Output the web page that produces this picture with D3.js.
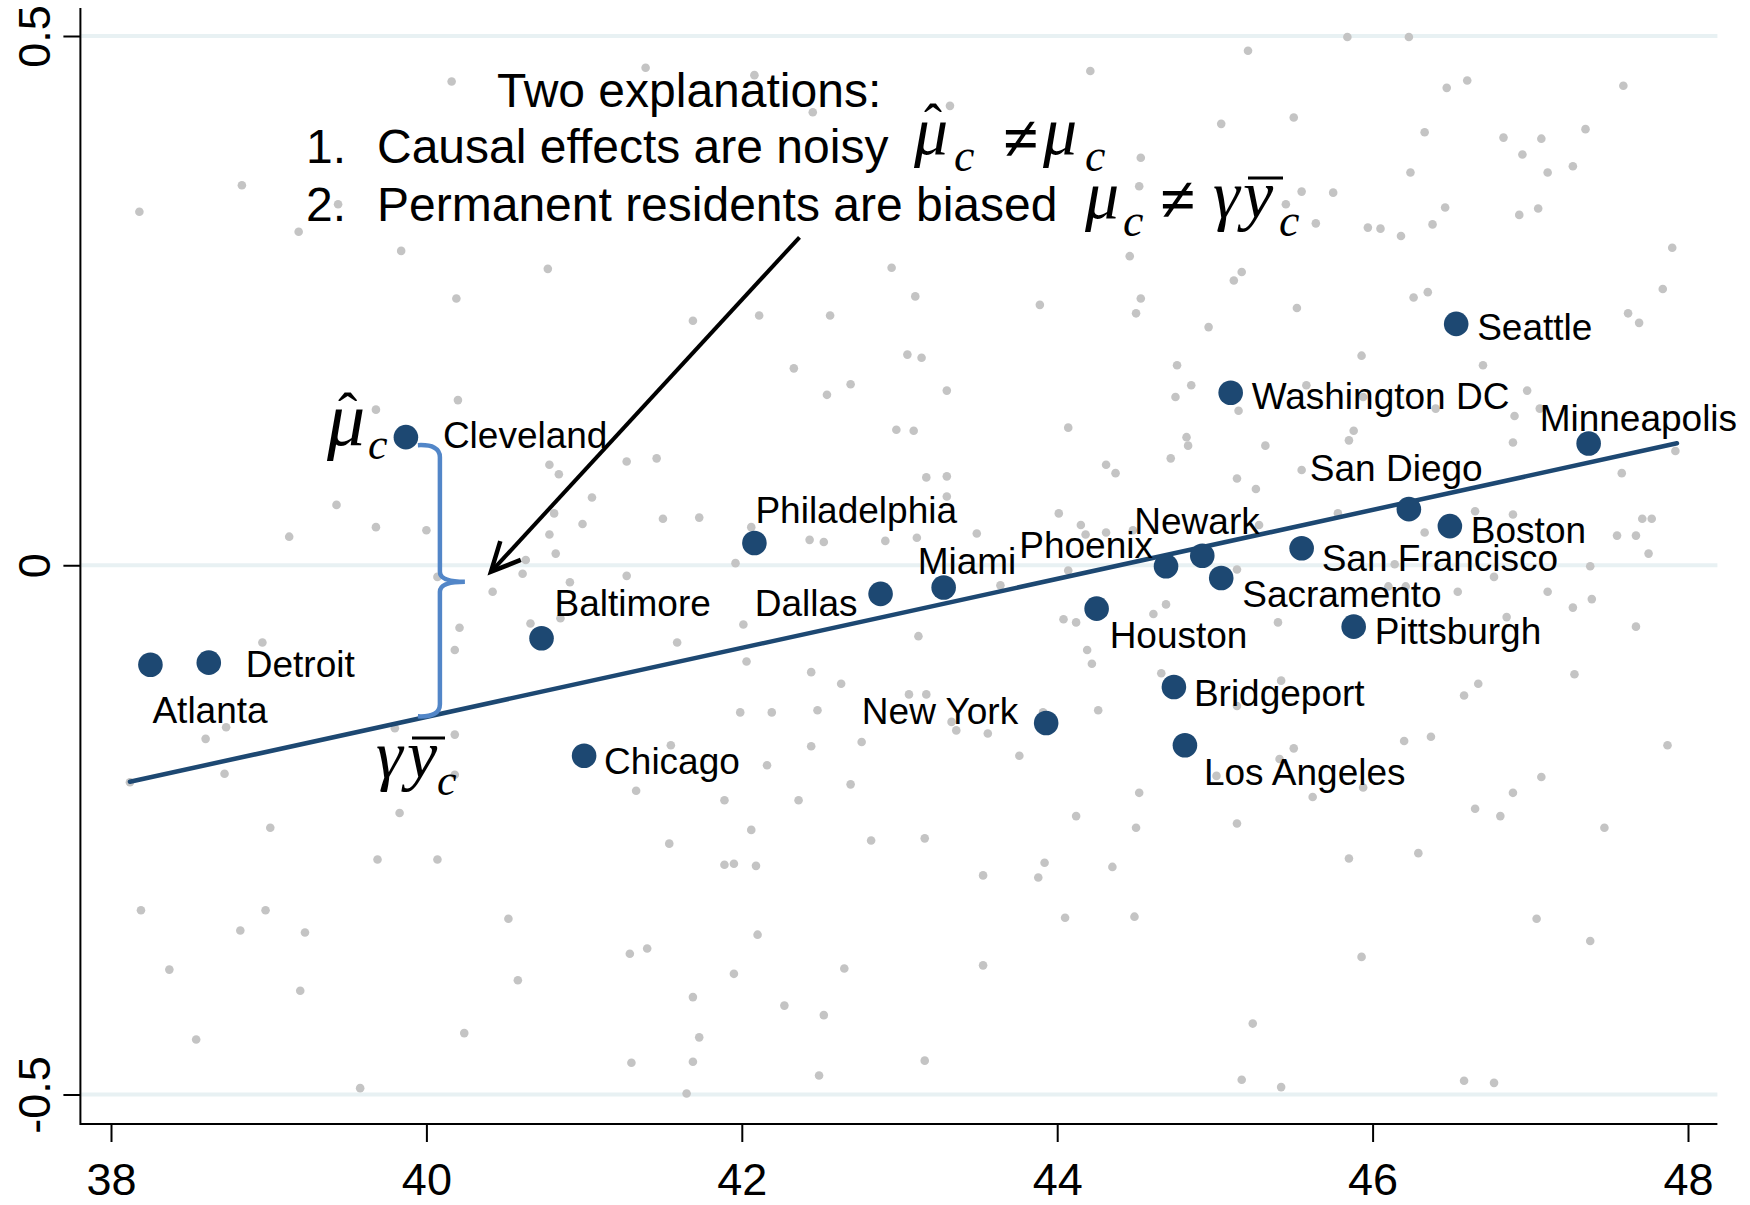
<!DOCTYPE html>
<html>
  <head>
    <meta charset="utf-8">
    <script src="https://d3js.org/d3.v7.min.js"></script>
    <title>Place effects vs permanent residents</title>
    <style>
      body { margin: 0px; background: #fff; }
      text { font-family: 'Liberation Sans', Arial, sans-serif; fill: #000; }
      .tick line { stroke: #000; stroke-width: 2; }
      .tick text { font-size: 45px; }
      .city-label { font-size: 37px; }
      .note { font-size: 48px; }
      .math { font-family: 'Liberation Serif', 'Times New Roman', serif; font-style: italic; }
      .math .up { font-style: normal; }
    </style>
  </head>
  <body>
    <svg width="1750" height="1205"></svg>
    <script>
      // tick values
      const xTicks = [38, 40, 42, 44, 46, 48];
      const yTicks = [-0.5, 0, 0.5];

      // labelled cities
      const cities = ['Atlanta', 'Detroit', 'Cleveland', 'Baltimore', 'Chicago', 'Philadelphia',
        'Dallas', 'Miami', 'New York', 'Houston', 'Phoenix', 'Newark', 'Sacramento', 'Bridgeport',
        'Los Angeles', 'Washington DC', 'San Francisco', 'Pittsburgh', 'San Diego', 'Boston',
        'Seattle', 'Minneapolis'];
      const cityX = [38.25, 38.62, 39.87, 40.73, 41.00, 42.08, 42.88, 43.28, 43.93, 44.25, 44.69,
        44.92, 45.04, 44.74, 44.81, 45.10, 45.55, 45.88, 46.23, 46.49, 46.53, 47.37];
      const cityY = [-0.094, -0.092, 0.121, -0.069, -0.180, 0.021, -0.027, -0.021, -0.149, -0.041,
        -0.001, 0.009, -0.012, -0.115, -0.170, 0.163, 0.016, -0.058, 0.053, 0.037, 0.228, 0.115];

      // fitted line end points
      const fitX = [38.12, 47.93];
      const fitY = [-0.2045, 0.1152];

      // background (all other places)
      const bgX = [40.16, 38.83, 38.18, 39.44, 39.19, 39.84, 40.77, 40.19, 40.20, 41.39, 42.08, 42.45,
        43.32, 44.21, 45.21, 45.50, 45.04, 44.53, 44.52, 44.46, 45.17, 45.12, 45.52, 42.95, 43.10,
        43.89, 44.53, 44.50, 44.96, 41.69, 42.11, 42.56, 43.05, 43.14, 42.33, 42.69, 42.54, 43.30,
        44.76, 44.85, 44.75, 45.84, 46.23, 46.47, 46.60, 47.59, 46.33, 46.83, 47.07, 47.35, 46.95,
        47.11, 47.27, 46.24, 45.55, 45.75, 45.45, 45.64, 45.97, 46.05, 46.18, 46.38, 46.46, 46.93,
        47.05, 47.90, 46.26, 46.35, 47.84, 47.62, 47.69, 45.93, 46.70, 46.98, 45.32, 45.15, 45.58,
        45.94, 46.40, 46.90, 47.06, 46.89, 45.88, 45.85, 47.92, 47.58, 45.55, 45.14, 45.26, 44.82,
        44.83, 44.72, 45.28, 45.14, 44.69, 44.61, 45.40, 46.33, 46.65, 46.89, 47.55, 47.67, 47.71,
        47.77, 47.75, 47.38, 46.77, 46.54, 47.11, 47.39, 47.27, 47.67, 46.85, 46.10, 46.21, 46.14,
        45.78, 44.66, 45.42, 45.14, 47.28, 46.67, 46.58, 46.20, 46.37, 45.50, 47.87, 45.41, 45.01,
        47.07, 45.94, 46.89, 45.62, 42.98, 43.09, 44.07, 44.31, 44.37, 41.27, 41.46, 43.17, 43.30,
        43.30, 41.50, 41.73, 42.06, 42.43, 42.52, 42.91, 43.11, 43.49, 44.01, 44.15, 44.18, 44.31,
        44.48, 41.96, 41.27, 44.07, 43.64, 42.01, 41.59, 43.12, 44.04, 44.12, 42.03, 42.44, 42.63,
        44.19, 44.22, 43.06, 43.17, 44.26, 43.91, 41.99, 42.19, 42.48, 43.33, 43.36, 43.56, 42.76,
        42.44, 41.55, 42.16, 43.76, 44.52, 41.33, 42.69, 39.68, 40.78, 40.84, 41.05, 40.99, 40.81,
        40.78, 40.82, 40.63, 40.61, 40.91, 40.42, 40.07, 39.43, 39.68, 40.00, 39.13, 40.21, 40.18,
        40.66, 40.85, 38.96, 38.73, 38.60, 39.80, 40.18, 38.72, 40.18, 38.12, 39.83, 39.01, 39.69,
        40.07, 38.19, 38.98, 38.82, 39.23, 40.52, 38.37, 39.20, 40.58, 38.54, 40.24, 39.58, 41.89,
        42.36, 42.06, 41.54, 41.89, 41.95, 42.09, 42.82, 43.16, 44.12, 44.50, 43.53, 43.92, 43.88,
        44.35, 44.05, 44.49, 42.10, 41.29, 41.40, 41.95, 42.65, 43.53, 41.69, 42.27, 42.52, 41.73,
        41.30, 41.69, 43.16, 42.49, 41.65, 46.65, 46.81, 47.47, 45.14, 45.85, 46.29, 47.04, 47.38,
        45.93, 45.24, 45.17, 45.42, 46.58, 46.77];
      const bgY = [0.457, 0.359, 0.334, 0.341, 0.315, 0.297, 0.280, 0.252, 0.156, 0.470, 0.463, 0.428,
        0.434, 0.467, 0.486, 0.423, 0.417, 0.385, 0.358, 0.292, 0.277, 0.269, 0.243, 0.281, 0.254,
        0.246, 0.252, 0.238, 0.225, 0.231, 0.236, 0.236, 0.199, 0.196, 0.186, 0.171, 0.161, 0.165,
        0.189, 0.170, 0.159, 0.499, 0.499, 0.451, 0.458, 0.453, 0.409, 0.404, 0.403, 0.412, 0.388,
        0.371, 0.377, 0.371, 0.353, 0.352, 0.341, 0.323, 0.319, 0.318, 0.311, 0.322, 0.338, 0.331,
        0.337, 0.300, 0.253, 0.258, 0.261, 0.238, 0.229, 0.198, 0.189, 0.165, 0.113, 0.146, 0.170,
        0.159, 0.148, 0.141, 0.148, 0.116, 0.127, 0.118, 0.108, 0.087, 0.090, 0.082, 0.072, 0.121,
        0.113, 0.101, 0.038, -0.004, -0.037, -0.046, -0.054, 0.031, 0.051, 0.048, 0.028, 0.028, 0.044,
        0.044, 0.011, -0.001, -0.011, -0.025, -0.025, -0.032, -0.040, -0.058, -0.049, -0.020, -0.020,
        0.001, 0.049, -0.102, -0.109, -0.133, -0.103, -0.112, -0.123, -0.166, -0.162, -0.173, -0.170,
        -0.183, -0.199, -0.200, -0.210, -0.215, -0.219, 0.128, 0.127, 0.130, 0.095, 0.087, 0.098,
        0.101, 0.083, 0.084, 0.065, 0.044, 0.045, 0.036, 0.024, 0.022, 0.023, 0.026, 0.030, 0.049,
        0.038, 0.029, 0.031, 0.033, 0.002, -0.010, -0.005, -0.019, -0.056, -0.073, -0.067, -0.051,
        -0.054, -0.091, -0.101, -0.112, -0.080, -0.093, -0.122, -0.122, -0.137, -0.139, -0.139,
        -0.139, -0.137, -0.148, -0.156, -0.159, -0.167, -0.171, -0.170, -0.189, -0.180, -0.215,
        -0.213, -0.207, 0.147, 0.095, 0.086, 0.064, 0.039, 0.049, 0.029, 0.011, 0.005, -0.008, -0.016,
        -0.025, -0.011, 0.057, 0.036, 0.033, 0.027, -0.059, -0.080, -0.055, -0.050, -0.073, -0.153,
        -0.164, -0.154, -0.160, -0.197, -0.198, -0.205, -0.234, -0.248, -0.278, -0.278, -0.326,
        -0.326, -0.345, -0.347, -0.334, -0.382, -0.402, -0.392, -0.448, -0.442, -0.494, -0.222,
        -0.222, -0.250, -0.263, -0.283, -0.282, -0.284, -0.260, -0.258, -0.237, -0.248, -0.293,
        -0.281, -0.295, -0.285, -0.333, -0.332, -0.349, -0.367, -0.362, -0.386, -0.381, -0.378,
        -0.408, -0.416, -0.425, -0.446, -0.470, -0.469, -0.468, -0.482, -0.499, -0.230, -0.237,
        -0.248, -0.244, -0.277, -0.272, -0.334, -0.355, -0.370, -0.433, -0.486, -0.493, -0.487,
        -0.489];

      // where each city name sits relative to its dot (px)
      const labelPlace = {
        'Atlanta': [2, 58, 'start'], 'Detroit': [37, 14, 'start'], 'Cleveland': [37, 11, 'start'],
        'Baltimore': [13, -22, 'start'], 'Chicago': [20, 18, 'start'], 'Philadelphia': [1, -20, 'start'],
        'Dallas': [-23, 22, 'end'], 'Miami': [-26, -13, 'start'], 'New York': [-28, 1, 'end'],
        'Houston': [13, 39, 'start'], 'Phoenix': [-13, -8, 'end'], 'Newark': [-68, -22, 'start'],
        'Sacramento': [21, 29, 'start'], 'Bridgeport': [20, 19, 'start'], 'Los Angeles': [19, 40, 'start'],
        'Washington DC': [21, 16, 'start'], 'San Francisco': [20, 23, 'start'], 'Pittsburgh': [21, 17, 'start'],
        'San Diego': [-99, -28, 'start'], 'Boston': [21, 17, 'start'], 'Seattle': [21, 16, 'start'],
        'Minneapolis': [-49, -13, 'start']
      };

      const navy = '#1d4872';
      const svg = d3.select('svg');

      const x = d3.scaleLinear().domain([38, 48]).range([111, 1688]);
      const y = d3.scaleLinear().domain([-0.5, 0.5]).range([1094.5, 36]);
      const plotLeft = 80.4, plotRight = 1717.4, plotTop = 8, plotBottom = 1124;

      // horizontal grid
      svg.append('g').selectAll('line').data(yTicks).enter().append('line')
          .attr('x1', plotLeft + 1).attr('x2', plotRight)
          .attr('y1', d => y(d)).attr('y2', d => y(d))
          .attr('stroke', '#e8f1f3').attr('stroke-width', 4);

      // axes
      const xAxisG = svg.append('g').attr('transform', `translate(0,${plotBottom})`)
          .call(d3.axisBottom(x).tickValues(xTicks).tickSize(18).tickFormat(d3.format('d')));
      xAxisG.select('.domain').remove();
      xAxisG.selectAll('.tick text').attr('y', 71).attr('dy', 0).attr('font-size', null);

      const yAxisG = svg.append('g').attr('transform', `translate(${plotLeft},0)`)
          .call(d3.axisLeft(y).tickValues(yTicks).tickSize(17).tickFormat(d => String(d)));
      yAxisG.select('.domain').remove();
      yAxisG.selectAll('.tick text')
          .attr('x', 0).attr('y', -30).attr('dy', 0)
          .attr('transform', 'rotate(-90)')
          .attr('text-anchor', 'middle');

      svg.append('line').attr('x1', plotLeft).attr('x2', plotRight)
          .attr('y1', plotBottom).attr('y2', plotBottom)
          .attr('stroke', '#000').attr('stroke-width', 2);
      svg.append('line').attr('x1', plotLeft).attr('x2', plotLeft)
          .attr('y1', plotTop).attr('y2', plotBottom + 1)
          .attr('stroke', '#000').attr('stroke-width', 2);

      // grey places
      svg.append('g').selectAll('circle').data(d3.range(bgX.length)).enter().append('circle')
          .attr('cx', i => x(bgX[i]))
          .attr('cy', i => y(bgY[i]))
          .attr('r', 4.3)
          .attr('fill', '#c4c4c4');

      // fitted line
      svg.append('path')
          .datum(d3.zip(fitX, fitY))
          .attr('d', d3.line().x(d => x(d[0])).y(d => y(d[1])))
          .attr('stroke', navy).attr('stroke-width', 4.5).attr('fill', 'none')
          .attr('stroke-linecap', 'round');

      // brace from Cleveland down to the fitted value
      const ci = cities.indexOf('Cleveland');
      const fitAt = v => fitY[0] + (fitY[1] - fitY[0]) * (v - fitX[0]) / (fitX[1] - fitX[0]);
      const bx = x(cityX[ci]) + 34;
      const bTop = y(cityY[ci]) + 8, bBot = y(fitAt(cityX[ci])) - 5;
      const bMid = (bTop + bBot) / 2 + 1;
      svg.append('path')
          .attr('d', `M${bx - 22},${bTop} Q${bx},${bTop - 1} ${bx},${bTop + 12}` +
            ` L${bx},${bMid - 10} Q${bx},${bMid} ${bx + 25},${bMid}` +
            ` Q${bx},${bMid} ${bx},${bMid + 10} L${bx},${bBot - 12}` +
            ` Q${bx},${bBot + 1} ${bx - 22},${bBot}`)
          .attr('fill', 'none').attr('stroke', '#5286c8').attr('stroke-width', 4.5);

      // arrow
      const a0 = [799.5, 237.3], a1 = [491, 571.7];
      const ang = Math.atan2(a0[1] - a1[1], a0[0] - a1[0]);
      const head = s => [a1[0] + 32 * Math.cos(ang + s), a1[1] + 32 * Math.sin(ang + s)];
      svg.append('line').attr('x1', a0[0]).attr('y1', a0[1]).attr('x2', a1[0] + 2).attr('y2', a1[1] - 2)
          .attr('stroke', '#000').attr('stroke-width', 4);
      svg.append('path')
          .attr('d', `M${head(0.45)} L${a1} L${head(-0.45)}`)
          .attr('fill', 'none').attr('stroke', '#000').attr('stroke-width', 4.5)
          .attr('stroke-linejoin', 'miter');

      // cities
      svg.append('g').selectAll('circle').data(cities).enter().append('circle')
          .attr('cx', (d, i) => x(cityX[i]))
          .attr('cy', (d, i) => y(cityY[i]))
          .attr('r', 12.3)
          .attr('fill', navy);

      svg.append('g').selectAll('text').data(cities).enter().append('text')
          .attr('class', 'city-label')
          .attr('x', (d, i) => x(cityX[i]) + labelPlace[d][0])
          .attr('y', (d, i) => y(cityY[i]) + labelPlace[d][1])
          .attr('text-anchor', d => labelPlace[d][2])
          .text(d => d);

      // annotation text
      const note = svg.append('g').attr('class', 'note');
      note.append('text').attr('x', 497).attr('y', 107).text('Two explanations:');
      note.append('text').attr('x', 306).attr('y', 163).text('1.');
      note.append('text').attr('x', 377).attr('y', 163).text('Causal effects are noisy');
      note.append('text').attr('x', 306).attr('y', 221).text('2.');
      note.append('text').attr('x', 377).attr('y', 221).text('Permanent residents are biased');

      // math expressions: one text each, glyphs placed as tspans [chars, x, y, size, upright]
      const formula = parts => {
        const t = svg.append('text').attr('class', 'math');
        parts.forEach(p => t.append('tspan')
            .attr('class', p[4] ? 'up' : null)
            .attr('x', p[1]).attr('y', p[2])
            .attr('font-size', p[3])
            .attr('font-weight', p[0] === '≠' ? 'bold' : null)
            .text(p[0]));
        return t;
      };
      const bar = (x1, x2, yy) => svg.append('line').attr('x1', x1).attr('x2', x2)
          .attr('y1', yy).attr('y2', yy).attr('stroke', '#000').attr('stroke-width', 3);

      formula([['μ', 914, 154, 68], ['ˆ', 924, 142, 54, true], ['c', 954, 171, 46],
        ['≠', 1003, 160, 64, true], ['μ', 1043, 154, 68], ['c', 1085, 171, 46]]);
      formula([['μ', 1085, 218, 68], ['c', 1123, 236, 46], ['≠', 1160, 221, 64, true],
        ['γ', 1213, 218, 68], ['y', 1243, 218, 68], ['c', 1279, 236, 46]]);
      bar(1248, 1283, 178);

      // labels near Cleveland and the line
      formula([['μ', 327, 445, 76], ['ˆ', 338, 432, 58, true], ['c', 368, 459, 44]]);
      formula([['γ', 376, 778, 68], ['y', 407, 778, 68], ['c', 437, 795, 44]]);
      bar(412, 445, 738);
    </script>
  </body>
</html>
